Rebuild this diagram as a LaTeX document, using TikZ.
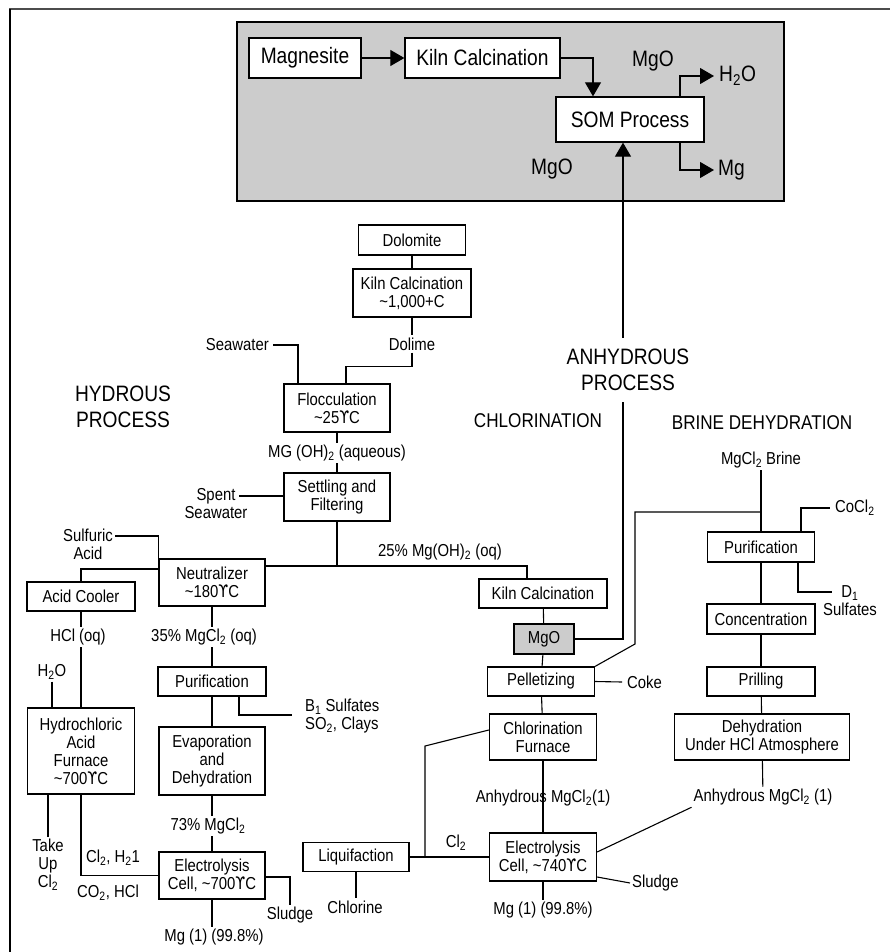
\documentclass[tikz,border=0pt]{standalone}
\usepackage{fontspec}
\setmainfont[FakeStretch=0.86]{Liberation Sans}
\newfontfamily\dvfont[FakeStretch=0.82]{DejaVu Sans}
\usetikzlibrary{arrows.meta}
\newcommand\degs{{\dvfont ϒ}}
\newcommand\tld{\textasciitilde}
\newcommand\sbs[1]{\textsubscript{#1}}
\begin{document}
\begin{tikzpicture}[x=1pt,y=-1pt,
  sm/.style={font=\fontsize{17.3}{18}\selectfont, align=center, inner sep=2pt},
  bg/.style={font=\fontsize{22.3}{25.5}\selectfont, align=center, inner sep=2pt},
  md/.style={font=\fontsize{19.9}{22}\selectfont, align=center, inner sep=2pt},
  box/.style={draw, line width=1.3pt, fill=white, inner sep=0pt, align=center, font=\fontsize{17.3}{18}\selectfont},
  bbox/.style={box, font=\fontsize{22.3}{25.5}\selectfont},
  ln/.style={line width=1.1pt},
  arr/.style={line width=1.1pt, -{Triangle[length=14pt,width=16pt]}},
]
\useasboundingbox (0,0) rectangle (890,952);
\fill[white] (0,0) rectangle (890,952);
% outer frame
\draw[line width=2pt, black!70] (9,9) -- (890,9);
\draw[line width=1.5pt] (10,9) -- (10,952);

% ---------- top SOM panel ----------
\node[draw, line width=1.5pt, fill=black!20, minimum width=547pt, minimum height=179pt, inner sep=0pt] (grayarea) at (510.5,111.5) {};
\node[bbox, minimum width=112pt, minimum height=40pt] (magn) at (305,58) {Magnesite};
\node[bbox, minimum width=155pt, minimum height=40pt] (kiln0) at (482.5,58) {Kiln Calcination};
\node[bbox, minimum width=148pt, minimum height=45pt] (som) at (630,119.5) {SOM Process};
\node[bg] (mgo1) at (653,61) {MgO};
\node[bg, anchor=west, inner xsep=5pt] (h2o) at (714,76) {H\sbs{2}O};
\node[bg, anchor=west, inner xsep=4pt] (mg) at (714,170) {Mg};
\node[bg] (mgo2) at (552,169) {MgO};
\draw[arr] (magn) -- (kiln0);
\draw[arr] (kiln0.east) -| ([xshift=-37pt]som.north);
\draw[arr] ([xshift=50pt]som.north) |- (h2o.west);
\draw[arr] ([xshift=50pt]som.south) |- (mg.west);

% ---------- hydrous column ----------
\node[box, minimum width=107pt, minimum height=30pt] (dolo) at (412,240) {Dolomite};
\node[box, minimum width=118pt, minimum height=48pt] (kiln1) at (412,293) {Kiln Calcination\\\tld 1,000+C};
\node[sm] (dolime) at (412,344) {Dolime};
\node[sm, anchor=east] (seaw) at (271,345) {Seawater};
\node[box, minimum width=106pt, minimum height=48pt] (flocc) at (337,408) {Flocculation\\\tld 25\degs C};
\draw[ln] (dolo) -- (kiln1);
\draw[ln] (kiln1) -- (dolime);
\draw[ln] (dolime.south) -- ++(0,14) -| ([xshift=9pt]flocc.north);
\draw[ln] ([xshift=2pt]seaw.east) -| ([xshift=-39pt]flocc.north);

\node[sm] (mgaq) at (337,453) {MG (OH)\sbs{2} (aqueous)};
\node[box, minimum width=106pt, minimum height=48pt] (settle) at (337,497) {Settling and\\Filtering};
\draw[ln] (flocc) -- (mgaq);
\draw[ln] (mgaq) -- (settle);
\node[sm] (spent) at (216,504) {Spent\\Seawater};
\coordinate (spentend) at (239,496);
\draw[ln] (spentend -| settle.west) -- (spentend);

\node[box, minimum width=106pt, minimum height=47pt] (neut) at (212,582.5) {Neutralizer\\\tld 180\degs C};
\coordinate (junc) at (337,566);
\draw[ln] (settle) -- (junc);
\node[box, minimum width=128pt, minimum height=29pt] (kilnC) at (543,593.5) {Kiln Calcination};
\draw[ln] (neut.east |- junc) -| ([xshift=-16pt]kilnC.north);
\node[sm] (mg25) at (440,552) {25\% Mg(OH)\sbs{2} (oq)};

\node[sm] (sulf) at (88,544) {Sulfuric\\Acid};
\coordinate (sulfend) at (115,536);
\draw[ln] (sulfend) -| (neut.north west);
\node[box, minimum width=108pt, minimum height=29pt] (cooler) at (81,596.5) {Acid Cooler};
\draw[ln] ([yshift=13.5pt]neut.west) -| (cooler.north);

\node[sm] (hcl) at (78,637) {HCl (oq)};
\node[box, minimum width=107pt, minimum height=86pt] (furn) at (81,751) {Hydrochloric\\Acid\\Furnace\\\tld 700\degs C};
\draw[ln] (cooler.south) -- (cooler.south |- hcl.north);
\draw[ln] (furn.north |- hcl.south) -- (furn.north);

\node[sm] (mgcl35) at (204,637) {35\% MgCl\sbs{2} (oq)};
\node[box, minimum width=108pt, minimum height=29pt] (purif1) at (212,681.5) {Purification};
\draw[ln] (neut.south) -- (neut.south |- mgcl35.north);
\draw[ln] (purif1.north |- mgcl35.south) -- (purif1.north);

\node[sm] (h2oL) at (52,672) {H\sbs{2}O};
\draw[ln] (h2oL) -- (h2oL |- furn.north);

\node[sm, anchor=west, align=left] (bsulf) at (303,716.5) {B\sbs{1} Sulfates\\SO\sbs{2}, Clays};
\coordinate (bend) at (292,715);
\draw[ln] ([xshift=27pt]purif1.south) |- (bend);

\node[box, minimum width=106pt, minimum height=68pt] (evap) at (212,761) {Evaporation\\and\\Dehydration};
\draw[ln] (purif1) -- (evap);
\node[sm] (mgcl73) at (208,826) {73\% MgCl\sbs{2}};
\node[box, minimum width=106pt, minimum height=47pt] (elec1) at (212,875.5) {Electrolysis\\Cell, \tld 700\degs C};
\draw[ln] (evap.south) -- (evap.south |- mgcl73.north);
\draw[ln] (elec1.north |- mgcl73.south) -- (elec1.north);
\node[sm] (mgout1) at (214,937) {Mg (1) (99.8\%)};
\draw[ln] (elec1.south) -- (elec1.south |- mgout1.north);
\node[sm] (sludge1) at (290,915) {Sludge};
\draw[ln] ([yshift=-1.5pt]elec1.east) -| (sludge1.north);

\node[sm] (takeup) at (48,865) {Take\\Up\\Cl\sbs{2}};
\draw[ln] ([xshift=-33pt]furn.south) -- ([xshift=-33pt]furn.south |- takeup.north);
\draw[ln] (furn.south) |- (elec1.west);
\node[sm] (clh) at (113,858) {Cl\sbs{2}, H\sbs{2}1};
\node[sm] (co2) at (108,893) {CO\sbs{2}, HCl};

% ---------- chlorination column ----------
\node[box, fill=black!20, minimum width=60pt, minimum height=30pt] (mgoC) at (544,639) {MgO};
\node[box, minimum width=107pt, minimum height=29pt] (pell) at (541,681.5) {Pelletizing};
\node[sm, anchor=west, inner xsep=5pt] (coke) at (622,682) {Coke};
\node[box, minimum width=107pt, minimum height=46pt] (chlF) at (543,737) {Chlorination\\Furnace};
\node[box, minimum width=107pt, minimum height=48pt] (elec2) at (543,857) {Electrolysis\\Cell, \tld 740\degs C};
\node[sm] (mgout2) at (543,910) {Mg (1) (99.8\%)};
\node[sm, anchor=west] (sludge2) at (630,883) {Sludge};
\draw[ln] (kilnC) -- (mgoC);
\draw[ln] (mgoC) -- (pell);
\draw[ln] (pell) -- (chlF);
\draw[ln] (chlF) -- (elec2);
\node[sm] (anh1) at (543,798) {Anhydrous MgCl\sbs{2}(1)};
\draw[ln] (elec2.south) -- (elec2.south |- mgout2.north);
\draw[ln] (pell.east) -- (coke.west);
\draw[ln] ([yshift=-20pt]elec2.east) -- (sludge2.west);

\node[box, minimum width=106pt, minimum height=29pt] (liq) at (356,857) {Liquifaction};
\node[sm] (chlor) at (355,907) {Chlorine};
\draw[ln] (liq) -- (liq |- chlor.north);
\draw[ln] (liq) -- (elec2);
\coordinate (bendC) at (425,746);
\draw[ln] (liq.east -| bendC) -- (bendC) -- ([yshift=7pt]chlF.west);
\node[sm] (cl2) at (456,843) {Cl\sbs{2}};

% ---------- brine column ----------
\node[sm] (brine) at (761,460) {MgCl\sbs{2} Brine};
\node[box, minimum width=107pt, minimum height=30pt] (purif2) at (761,547) {Purification};
\node[box, minimum width=108pt, minimum height=30pt] (conc) at (761,619) {Concentration};
\node[box, minimum width=108pt, minimum height=29pt] (prill) at (761,681.5) {Prilling};
\node[box, minimum width=175pt, minimum height=46pt] (dehyd) at (762,737) {Dehydration\\Under HCl Atmosphere};
\node[sm] (anh2) at (763,797) {Anhydrous MgCl\sbs{2} (1)};
\draw[ln] (brine) -- (purif2);
\coordinate (brj) at (761,512);
\coordinate (bk1) at (635,512);
\coordinate (bk2) at (635,644);
\draw[ln] (brj) -- (bk1) -- (bk2) -- (pell.north east);
\node[sm, anchor=west, inner xsep=5pt] (cocl) at (830,508) {CoCl\sbs{2}};
\draw[ln] ([xshift=40pt]purif2.north) |- (cocl.west);
\node[sm] (d1) at (850,601) {D\sbs{1}\\Sulfates};
\coordinate (d1end) at (832,592);
\draw[ln] ([xshift=37pt]purif2.south) |- (d1end);
\draw[ln] (purif2) -- (conc);
\draw[ln] (conc) -- (prill);
\draw[ln] (prill) -- (dehyd);
\draw[ln] (dehyd) -- (anh2);
\draw[ln] ([yshift=5pt]elec2.east) -- (anh2.south west);

% ---------- MgO to SOM ----------
\draw[arr] (mgoC.east) -| ([xshift=-7pt]som.south);

% ---------- section titles ----------
\node[bg, fill=white, inner ysep=11pt] (anhp) at (628,370) {ANHYDROUS\\PROCESS};
\node[bg] (hydp) at (123,407) {HYDROUS\\PROCESS};
\node[md] (chlt) at (538,421) {CHLORINATION};
\node[md] (brt) at (762,423) {BRINE DEHYDRATION};
\end{tikzpicture}
\end{document}
